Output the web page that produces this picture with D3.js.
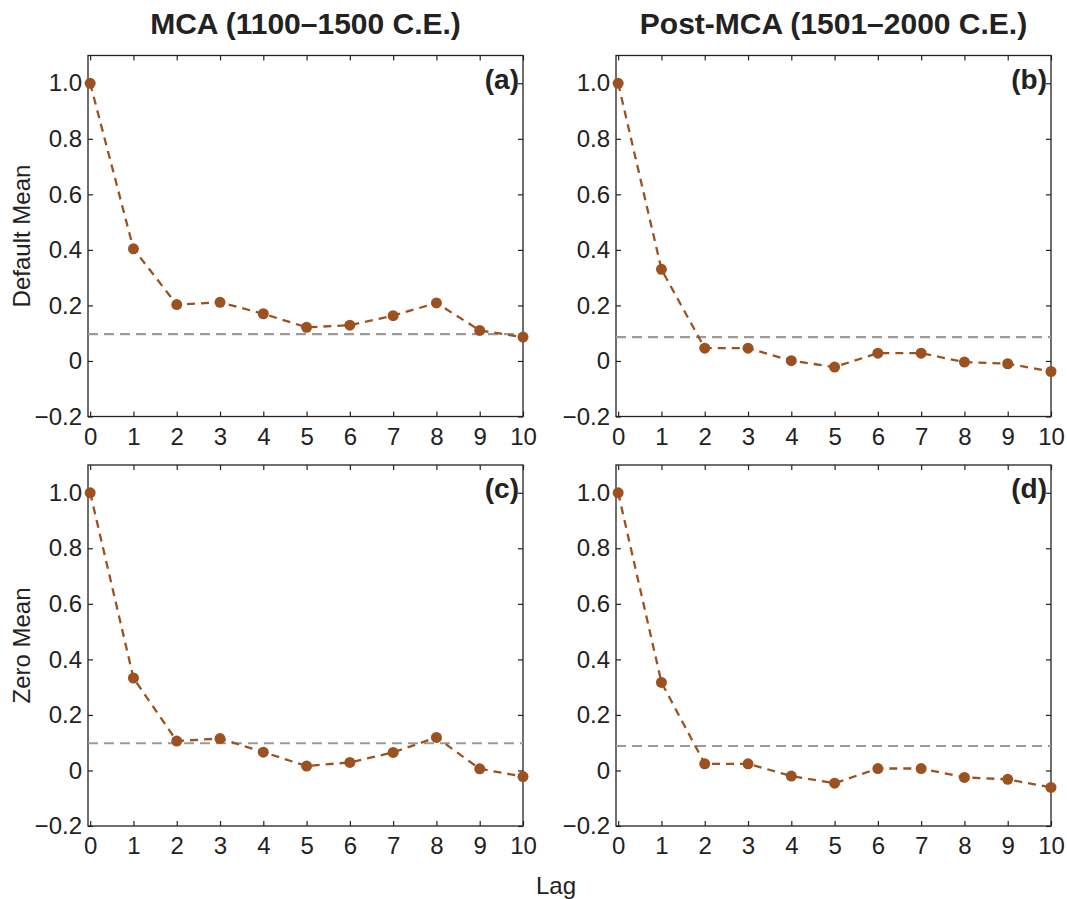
<!DOCTYPE html>
<html>
<head>
<meta charset="utf-8">
<script src="https://cdn.jsdelivr.net/npm/d3@7"></script>
<style>
body { margin: 0; background: #fff; }
svg { font-family: "Liberation Sans", Arial, Helvetica, sans-serif; }
.axis path { display: none; }
.axis line { stroke: #222; stroke-width: 1.2; }
.axis text { fill: #222; font-size: 24px; font-family: "Liberation Sans", Arial, Helvetica, sans-serif; }
</style>
</head>
<body>
<svg id="chart" width="1067" height="899"></svg>
<script>
// lags on the x axis
var lags = [0, 1, 2, 3, 4, 5, 6, 7, 8, 9, 10];
var yTicks = [-0.2, 0, 0.2, 0.4, 0.6, 0.8, 1.0];

// autocorrelation
var mcaDefault  = [1.0, 0.404, 0.203, 0.211, 0.170, 0.121, 0.129, 0.163, 0.209, 0.110, 0.086];
var postDefault = [1.0, 0.330, 0.046, 0.046, 0.001, -0.022, 0.028, 0.028, -0.004, -0.010, -0.038];
var mcaZero     = [1.0, 0.333, 0.106, 0.115, 0.066, 0.016, 0.029, 0.065, 0.119, 0.006, -0.022];
var postZero    = [1.0, 0.317, 0.024, 0.024, -0.020, -0.046, 0.007, 0.007, -0.025, -0.032, -0.061];

// significance level (grey dashed line) per panel
var sigLevels = [0.097, 0.086, 0.098, 0.088];

var colTitles = ["MCA (1100\u20131500 C.E.)", "Post-MCA (1501\u20132000 C.E.)"];
var rowLabels = ["Default Mean", "Zero Mean"];
var panelTags = ["(a)", "(b)", "(c)", "(d)"];

var panels = [
	{values: mcaDefault,  sig: sigLevels[0], tag: panelTags[0], col: 0, row: 0},
	{values: postDefault, sig: sigLevels[1], tag: panelTags[1], col: 1, row: 0},
	{values: mcaZero,     sig: sigLevels[2], tag: panelTags[2], col: 0, row: 1},
	{values: postZero,    sig: sigLevels[3], tag: panelTags[3], col: 1, row: 1}
];

var brown = "#9b5220";
var colX = [88, 616], rowY = [55.5, 465];
var pw = 435, ph = 361;

var svg = d3.select("#chart");

var xScale = d3.scaleLinear().domain([-0.05, 10]).range([0, pw]);
var yScale = d3.scaleLinear().domain([-0.2, 1.1]).range([ph, 0]);

function fmtY(d) {
	if (d === 0) return "0";
	return (d < 0 ? "\u2212" : "") + Math.abs(d).toFixed(1);
}

panels.forEach(function(p) {
	var g = svg.append("g")
		.attr("transform", "translate(" + colX[p.col] + "," + rowY[p.row] + ")");

	// inward ticks on all four sides
	g.append("g").attr("class", "axis")
		.attr("transform", "translate(0," + ph + ")")
		.call(d3.axisBottom(xScale).tickValues(lags).tickSizeInner(-5).tickSizeOuter(0).tickPadding(11));
	g.append("g").attr("class", "axis")
		.call(d3.axisTop(xScale).tickValues(lags).tickSizeInner(-5).tickSizeOuter(0).tickFormat(""));
	g.append("g").attr("class", "axis")
		.call(d3.axisLeft(yScale).tickValues(yTicks).tickSizeInner(-5).tickSizeOuter(0).tickPadding(6).tickFormat(fmtY));
	g.append("g").attr("class", "axis")
		.attr("transform", "translate(" + pw + ",0)")
		.call(d3.axisRight(yScale).tickValues(yTicks).tickSizeInner(-5).tickSizeOuter(0).tickFormat(""));

	g.append("rect")
		.attr("width", pw).attr("height", ph)
		.attr("fill", "none").attr("stroke", "#222").attr("stroke-width", 1.3);

	// significance line
	g.append("line")
		.attr("x1", 0).attr("x2", pw)
		.attr("y1", yScale(p.sig)).attr("y2", yScale(p.sig))
		.attr("stroke", "#9a9a9a").attr("stroke-width", 2.2)
		.attr("stroke-dasharray", "10,6");

	var line = d3.line()
		.x(function(d, i) { return xScale(lags[i]); })
		.y(function(d) { return yScale(d); });

	g.append("path")
		.datum(p.values)
		.attr("d", line)
		.attr("fill", "none")
		.attr("stroke", brown).attr("stroke-width", 2.3)
		.attr("stroke-dasharray", "8,6");

	g.selectAll("circle")
		.data(p.values)
		.enter().append("circle")
		.attr("cx", function(d, i) { return xScale(lags[i]); })
		.attr("cy", function(d) { return yScale(d); })
		.attr("r", 5.5)
		.attr("fill", brown);

	g.append("text")
		.attr("x", pw - 4).attr("y", 33)
		.attr("text-anchor", "end")
		.attr("font-size", "28px").attr("font-weight", "bold")
		.attr("fill", "#222")
		.text(p.tag);
});

colTitles.forEach(function(t, i) {
	svg.append("text")
		.attr("x", colX[i] + pw / 2).attr("y", 34)
		.attr("text-anchor", "middle")
		.attr("font-size", "30px").attr("font-weight", "bold")
		.attr("fill", "#222")
		.text(t);
});

rowLabels.forEach(function(t, i) {
	svg.append("text")
		.attr("transform", "translate(30," + (rowY[i] + ph / 2) + ") rotate(-90)")
		.attr("text-anchor", "middle")
		.attr("font-size", "24px")
		.attr("fill", "#222")
		.text(t);
});

svg.append("text")
	.attr("x", 556).attr("y", 894)
	.attr("text-anchor", "middle")
	.attr("font-size", "24px")
	.attr("fill", "#222")
	.text("Lag");
</script>
</body>
</html>
